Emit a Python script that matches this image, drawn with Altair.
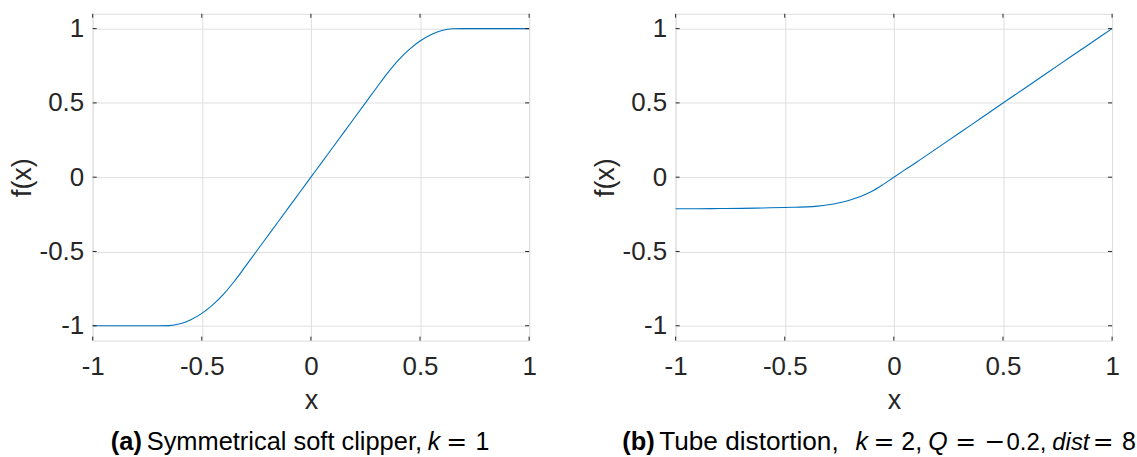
import altair as alt
import pandas as pd

# ---------------- data ----------------
# (a) Symmetrical soft clipper, k = 1
xa = [-1.0, -0.95, -0.9, -0.85, -0.8, -0.75, -0.7, -0.65, -0.6, -0.55, -0.5,
      -0.45, -0.4, -0.35, -0.3, -0.25, -0.2, -0.15, -0.1, -0.05, 0.0,
      0.05, 0.1, 0.15, 0.2, 0.25, 0.3, 0.35, 0.4, 0.45, 0.5,
      0.55, 0.6, 0.65, 0.7, 0.75, 0.8, 0.85, 0.9, 0.95, 1.0]
ya = [-1.0, -1.0, -1.0, -1.0, -1.0, -1.0, -1.0, -0.999, -0.987, -0.959, -0.917,
      -0.859, -0.787, -0.699, -0.6, -0.5, -0.4, -0.3, -0.2, -0.1, 0.0,
      0.1, 0.2, 0.3, 0.4, 0.5, 0.6, 0.699, 0.787, 0.859, 0.917,
      0.959, 0.987, 0.999, 1.0, 1.0, 1.0, 1.0, 1.0, 1.0, 1.0]

# (b) Tube distortion, k = 2, Q = -0.2, dist = 8
xb = [-1.0, -0.9, -0.8, -0.7, -0.6, -0.5, -0.45, -0.4, -0.35, -0.3, -0.25, -0.2,
      -0.15, -0.1, -0.05, 0.0, 0.05, 0.1, 0.15, 0.2, 0.3, 0.4, 0.5, 0.6, 0.7,
      0.8, 0.9, 1.0]
yb = [-0.212, -0.212, -0.211, -0.21, -0.207, -0.204, -0.202, -0.2, -0.195, -0.186,
      -0.172, -0.153, -0.128, -0.095, -0.05, 0.0, 0.049, 0.097, 0.147, 0.197,
      0.297, 0.398, 0.499, 0.599, 0.7, 0.8, 0.9, 1.0]

tick_values = [-1, -0.5, 0, 0.5, 1]
tick_labels = ["-1", "-0.5", "0", "0.5", "1"]

# caption segments: text, font, weight, style, size, x offset from plot left
caption_a = [
    ("(a)", "Liberation Sans", "bold", "normal", 25.5, 18.2),
    ("Symmetrical soft clipper,", "Liberation Sans", "normal", "normal", 25.5, 54.2),
    ("k", "Liberation Sans", "normal", "italic", 25, 336.2),
    ("=", "DejaVu Sans", "normal", "normal", 25, 354.7),
    ("1", "Liberation Sans", "normal", "normal", 25, 384.2),
]
caption_b = [
    ("(b)", "Liberation Sans", "bold", "normal", 25.5, -53.5),
    ("Tube distortion,", "Liberation Sans", "normal", "normal", 26.3, -16.5),
    ("k", "Liberation Sans", "normal", "italic", 25, 180.5),
    ("=", "DejaVu Sans", "normal", "normal", 25, 198.5),
    ("2,", "Liberation Sans", "normal", "normal", 25, 226.5),
    ("Q", "Liberation Sans", "normal", "italic", 25, 253.5),
    ("=", "DejaVu Sans", "normal", "normal", 25, 280.5),
    ("\u2212", "DejaVu Sans", "normal", "normal", 25, 310.0),
    ("0.2,", "Liberation Sans", "normal", "normal", 24, 332.0),
    ("dist", "Liberation Sans", "normal", "italic", 24, 378.0),
    ("=", "DejaVu Sans", "normal", "normal", 25, 418.5),
    ("8", "Liberation Sans", "normal", "normal", 25, 448.0),
]

# ---------------- styling ----------------
W, H = 438, 328
FONT = "Liberation Sans"
AXC = "#262626"
GRID = "#dfdfdf"
LINE = "#0072BD"
CAP_Y = 438
TL = 4

label_expr = " : ".join(
    f"datum.value == {v} ? '{l}'" for v, l in zip(tick_values, tick_labels)
) + " : ''"

xscale = alt.Scale(domain=[-1, 1], nice=False, zero=False)
yscale = alt.Scale(domain=[-1.1, 1.1], nice=False, zero=False)

common_axis = dict(
    values=tick_values, labelExpr=label_expr, ticks=False, domain=False,
    grid=True, gridColor=GRID, gridWidth=1, labelFont=FONT, titleFont=FONT,
    labelFontSize=26, titleFontSize=27, titleFontWeight="normal",
    labelColor=AXC, titleColor=AXC, labelOverlap=False,
)
x_axis = alt.Axis(title="x", labelFlush=False, labelPadding=13, titlePadding=8, **common_axis)
y_axis = alt.Axis(title="f(x)", labelPadding=9, titlePadding=3, **common_axis)


def xenc(field):
    return alt.X(field, type="quantitative", scale=xscale, axis=x_axis)


def yenc(field):
    return alt.Y(field, type="quantitative", scale=yscale, axis=y_axis)


def panel(xs, ys, caption):
    df = pd.DataFrame({"x": xs, "y": ys})
    line = alt.Chart(df).mark_line(color=LINE, strokeWidth=1.1, interpolate="monotone").encode(
        x=xenc("x"), y=yenc("y"),
    )
    tdf = pd.DataFrame({"v": tick_values})
    ticks = [
        alt.Chart(tdf).mark_rule(color=AXC, strokeWidth=1).encode(
            y=yenc("v"), x=alt.value(0), x2=alt.value(TL)),
        alt.Chart(tdf).mark_rule(color=AXC, strokeWidth=1).encode(
            y=yenc("v"), x=alt.value(W - TL), x2=alt.value(W)),
        alt.Chart(tdf).mark_rule(color=AXC, strokeWidth=1).encode(
            x=xenc("v"), y=alt.value(H - TL), y2=alt.value(H)),
        alt.Chart(tdf).mark_rule(color=AXC, strokeWidth=1).encode(
            x=xenc("v"), y=alt.value(0), y2=alt.value(TL)),
    ]
    caps = []
    for text, font, weight, style, size, px in caption:
        caps.append(
            alt.Chart(pd.DataFrame({"t": [text]})).mark_text(
                align="left", baseline="alphabetic", font=font, fontSize=size,
                fontWeight=weight, fontStyle=style, color="black",
            ).encode(text="t:N", x=alt.value(px), y=alt.value(CAP_Y))
        )
    return alt.layer(line, *ticks, *caps).properties(width=W, height=H)


chart = alt.hconcat(panel(xa, ya, caption_a), panel(xb, yb, caption_b), spacing=53).properties(
    padding={"left": 7, "top": 12, "right": 0, "bottom": 0}
).configure_view(stroke=AXC, strokeWidth=1).configure(background="white")

chart.save("out.html", embed_options={"renderer": "svg", "actions": False})
